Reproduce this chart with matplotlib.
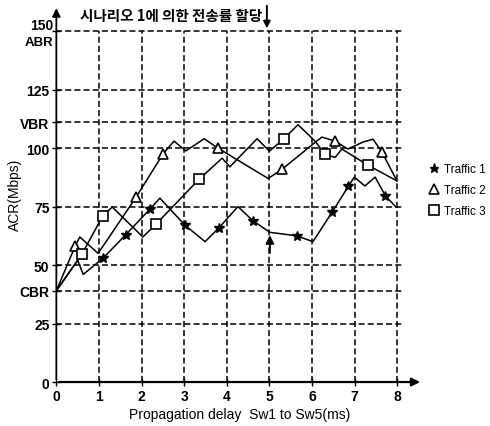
import matplotlib
matplotlib.use("Agg")
import matplotlib.pyplot as plt
from matplotlib.lines import Line2D

plt.rcParams['font.family'] = ['Liberation Sans', 'Noto Sans CJK KR', 'DejaVu Sans']

# y axis tick positions and labels (CBR / VBR are named levels)
y_ticks = [0, 25, 39, 50, 75, 100, 111, 125, 150]
y_labels = ['0', '25', 'CBR', '50', '75', '100', 'VBR', '125', '']
x_ticks = [0, 1, 2, 3, 4, 5, 6, 7, 8]

# Traffic 1 (stars)
t1_x = [0, 0.5, 0.63, 1.1, 1.63, 2.2, 2.43, 3.02, 3.49, 3.82, 4.26, 4.61, 5.01,
        5.64, 6.02, 6.47, 6.85, 6.99, 7.24, 7.48, 7.72, 7.97]
t1_y = [39, 52, 46, 53, 63, 74, 78.6, 67, 60, 66, 75, 69, 64,
        62.5, 60, 72.6, 83.6, 87.6, 83.8, 87.6, 79.6, 74.8]
t1_mark = [3, 4, 5, 7, 9, 11, 13, 15, 16, 20]

# Traffic 2 (triangles)
t2_x = [0, 0.44, 0.55, 0.98, 1.87, 2.5, 2.76, 3.04, 3.47, 3.79, 4.97, 5.3,
        6.02, 6.23, 6.54, 6.84, 7.2, 7.43, 7.64, 7.99]
t2_y = [39, 58, 62, 55, 79, 97.4, 103, 98.8, 104, 100, 87, 91,
        101.7, 104.7, 103, 99.6, 102.6, 103.8, 98.3, 86]
t2_mark = [1, 4, 5, 9, 11, 14, 18]

# Traffic 3 (squares)
t3_x = [0, 0.6, 1.09, 1.31, 2.03, 2.34, 3.35, 3.89, 4.07, 4.71, 5.0, 5.34,
        5.67, 6.07, 6.3, 6.54, 6.7, 7.31, 7.99]
t3_y = [39, 54.7, 71, 74.8, 62, 67.5, 86.7, 95.7, 92, 104, 98.7, 104,
        110, 103, 97.4, 96, 99.6, 92.7, 86]
t3_mark = [1, 2, 5, 6, 11, 14, 17]

fig = plt.figure(figsize=(4.9, 4.27), dpi=100)
ax = fig.add_axes([0.115, 0.103, 0.748, 0.882])
ax.set_xlim(0, 8.6)
ax.set_ylim(0, 161)
for s in ax.spines.values():
    s.set_visible(False)

# dashed grid
dash = (0, (4, 2))
for y in y_ticks[1:]:
    ax.plot([0, 8.15], [y, y], color='black', lw=1.1, ls=dash, zorder=1)
for x in x_ticks[1:]:
    ax.plot([x, x], [0, 150], color='black', lw=1.1, ls=dash, zorder=1)

# axes with arrows
ax.annotate('', xy=(0, 161), xytext=(0, 0),
            arrowprops=dict(arrowstyle='-|>', color='black', lw=1.3, mutation_scale=12))
ax.annotate('', xy=(8.6, 0), xytext=(0, 0),
            arrowprops=dict(arrowstyle='-|>', color='black', lw=1.6, mutation_scale=12))

ax.plot(t1_x, t1_y, color='black', lw=1.1, marker='*', ms=7, markevery=t1_mark, zorder=3)
ax.plot(t2_x, t2_y, color='black', lw=1.1, marker='^', ms=7, mfc='white', mew=1.2,
        markevery=t2_mark, zorder=3)
ax.plot(t3_x, t3_y, color='black', lw=1.1, marker='s', ms=7, mfc='white', mew=1.2,
        markevery=t3_mark, zorder=3)

# arrow onto Traffic 1 at 5 ms
ax.annotate('', xy=(5.01, 64), xytext=(5.01, 54),
            arrowprops=dict(arrowstyle='-|>', color='black', lw=1.4, mutation_scale=12))

# title annotation with downward arrow
ax.text(2.68, 157, '시나리오 1에 의한 전송률 할당', ha='center', va='center', fontsize=10.5,
        family=['Noto Sans CJK KR', 'DejaVu Sans'], fontweight='bold')
ax.annotate('', xy=(4.94, 150), xytext=(4.94, 162),
            arrowprops=dict(arrowstyle='-|>', color='black', lw=1.4, mutation_scale=10),
            annotation_clip=False)

ax.set_xticks(x_ticks)
ax.set_xticklabels([str(v) for v in x_ticks], fontsize=10, fontweight='bold')
ax.set_yticks(y_ticks)
ax.set_yticklabels(y_labels, fontsize=10, fontweight='bold')
ax.tick_params(axis='both', direction='inout', length=6, width=1, pad=2)
# top level carries two labels: 150 and ABR
ax.text(-0.06, 152.8, '150', ha='right', va='center', fontsize=10, fontweight='bold')
ax.text(-0.06, 145.2, 'ABR', ha='right', va='center', fontsize=9.5, fontweight='bold')

ax.set_xlabel('Propagation delay  Sw1 to Sw5(ms)', fontsize=10, labelpad=3)
ax.set_ylabel('ACR(Mbps)', fontsize=10, labelpad=-2)

handles = [
    Line2D([], [], ls='none', marker='*', ms=6.5, color='black'),
    Line2D([], [], ls='none', marker='^', ms=6.5, mfc='white', color='black', mew=1.2),
    Line2D([], [], ls='none', marker='s', ms=6.5, mfc='white', color='black', mew=1.2),
]
fig.legend(handles, ['Traffic 1', 'Traffic 2', 'Traffic 3'], loc='upper left',
           bbox_to_anchor=(0.855, 0.64), frameon=False, fontsize=8.5,
           handlelength=0.8, handletextpad=0.4, labelspacing=0.75)

fig.savefig('out.png', dpi=100)
